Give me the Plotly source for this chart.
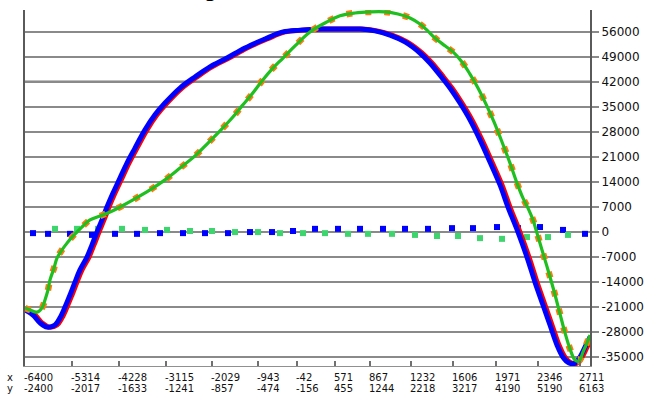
import plotly.graph_objects as go

# Sample index along the recorded sweep and the measured channel values
blue_t = [0, 8, 15, 22, 30, 35, 40, 45, 50, 55, 62, 67, 72, 77, 82, 88, 95, 102, 110, 120,
          130, 140, 155, 170, 185, 202, 220, 240, 258, 275, 295, 315, 335, 350, 365, 380,
          395, 405, 415, 425, 435, 445, 455, 465, 475, 483, 493, 502, 510, 518, 525, 532,
          538, 544, 550, 555, 560, 565]
blue_v = [-21900, -23300, -25500, -26700, -26100, -24100, -21100, -17700, -14100, -10700,
          -7100, -3700, -100, 3300, 6900, 10800, 15000, 19200, 23400, 28500,
          32700, 36000, 40200, 43300, 46100, 48600, 51400, 53900, 55900, 56400,
          56700, 56700, 56700, 56200, 55000, 53100, 50000, 47200, 43800, 40200,
          36000, 31300, 25700, 19500, 13100, 6900, -100, -7100, -14100, -20500,
          -26100, -31700, -35100, -36700, -36800, -35100, -32300, -29500]

green_t = [0, 5, 12, 17, 20, 23, 25, 29, 32, 37, 42, 47, 52, 58, 65, 75, 85, 95, 108, 125,
           140, 155, 170, 183, 195, 207, 217, 227, 237, 247, 258, 270, 285, 300, 315, 330,
           345, 360, 373, 385, 395, 402, 410, 420, 428, 437, 445, 453, 461, 469, 477, 485,
           492, 498, 503, 508, 512, 517, 523, 529, 535, 540, 545, 550, 554, 558, 562, 565]
green_v = [-21300, -21900, -22500, -21300, -19100, -16300, -13500, -10200, -7400, -5100,
           -3200, -1500, -100, 1600, 3300, 4400, 5500, 6900, 8900, 11700,
           14500, 17800, 21200, 24800, 28200, 31800, 35200, 38500, 42200, 45500,
           48600, 52000, 55900, 58400, 60400, 61200, 61500, 61500, 60900, 59800,
           58100, 56400, 54200, 52000, 50300, 47500, 44100, 40200, 35700, 30700,
           25100, 19200, 13600, 9400, 6600, 3300, -400, -5100, -10700, -16600,
           -23000, -28300, -32800, -35900, -36200, -33700, -31100, -28900]

# Residual channels sampled around zero
blue_sq_t = [8, 23, 45, 67, 90, 112, 135, 158, 180, 203, 225, 247, 268, 290, 313, 335,
             358, 380, 403, 427, 448, 472, 493, 515, 538, 560]
blue_sq_v = [-400, -600, -600, -900, -600, -600, -400, -400, -400, -400, -100, -100, 200,
             800, 800, 800, 800, 800, 800, 1000, 1000, 1300, 1000, 1300, 500, -600]
green_sq_t = [30, 52, 73, 97, 120, 142, 165, 187, 210, 233, 255, 278, 300, 323, 343, 367,
              390, 412, 433, 455, 477, 502, 523, 543]
green_sq_v = [800, 800, 800, 800, 500, 500, 200, 200, -100, -100, -400, -400, -400, -600,
              -600, -600, -900, -1200, -1200, -1800, -2000, -1500, -1500, -900]

# Labelled samples: x and y coordinates at each marked index
tick_t = [0, 47, 94, 141, 187, 233, 272, 310, 345, 386, 428, 471, 513, 555]
tick_x = ["-6400", "-5314", "-4228", "-3115", "-2029", "-943", "-42", "571", "867",
          "1232", "1606", "1971", "2346", "2711"]
tick_y = ["-2400", "-2017", "-1633", "-1241", "-857", "-474", "-156", "455", "1244",
          "2218", "3217", "4190", "5190", "6163"]

y_ticks = [-35000, -28000, -21000, -14000, -7000, 0, 7000, 14000, 21000, 28000,
           35000, 42000, 49000, 56000]
y_major = [-21000, 0, 21000, 42000]

LAG = 2  # red channel trails blue by a couple of samples
red_t = [t + LAG for t in blue_t]
red_v = blue_v

fig = go.Figure()

fig.add_trace(go.Scatter(x=blue_sq_t, y=blue_sq_v, mode="markers",
                         marker=dict(symbol="square", size=6, color="#0000ff"),
                         hoverinfo="skip"))
fig.add_trace(go.Scatter(x=green_sq_t, y=green_sq_v, mode="markers",
                         marker=dict(symbol="square", size=6, color="#3fd56e"),
                         hoverinfo="skip"))
fig.add_trace(go.Scatter(x=red_t, y=red_v, mode="lines",
                         line=dict(color="#ff0000", width=5, shape="spline")))
fig.add_trace(go.Scatter(x=blue_t, y=blue_v, mode="lines",
                         line=dict(color="#0000ff", width=5, shape="spline")))
fig.add_trace(go.Scatter(x=green_t, y=green_v, mode="lines",
                         line=dict(color="#ff7a10", width=6.5, dash="6px,13px", shape="spline")))
fig.add_trace(go.Scatter(x=green_t, y=green_v, mode="lines",
                         line=dict(color="#1fbf1f", width=3.2, shape="spline")))

shapes = [dict(type="line", xref="paper", yref="y", x0=0, x1=1, y0=v, y1=v,
               line=dict(color="#000000", width=1.5), layer="below") for v in y_major]

LBL = dict(family="DejaVu Sans", size=10, color="#111111")
ROW1, ROW2 = -0.0309, -0.0646
annotations = []
for t, xs, ys in zip(tick_t, tick_x, tick_y):
    annotations.append(dict(x=t, xref="x", y=ROW1, yref="paper", text=xs,
                            xanchor="left", yanchor="middle", xshift=-3,
                            showarrow=False, font=LBL))
    annotations.append(dict(x=t, xref="x", y=ROW2, yref="paper", text=ys,
                            xanchor="left", yanchor="middle", xshift=-3,
                            showarrow=False, font=LBL))
annotations.append(dict(x=-0.0319, xref="paper", y=ROW1, yref="paper", text="x",
                        xanchor="left", yanchor="middle", xshift=-2, showarrow=False, font=LBL))
annotations.append(dict(x=-0.0319, xref="paper", y=ROW2, yref="paper", text="y",
                        xanchor="left", yanchor="middle", xshift=-2, showarrow=False, font=LBL))
annotations.append(dict(x=0.327, xref="paper", y=1, yref="paper", text="g",
                        xanchor="center", yanchor="bottom", yshift=6, showarrow=False,
                        font=dict(family="Liberation Sans", size=26, color="#000000")))

fig.update_layout(
    width=664, height=398,
    margin=dict(l=25, r=74, t=10, b=32),
    paper_bgcolor="#ffffff", plot_bgcolor="#ffffff",
    showlegend=False,
    shapes=shapes,
    annotations=annotations,
    xaxis=dict(range=[0, 565], showgrid=False, zeroline=False,
               tickvals=tick_t, ticktext=[""] * len(tick_t),
               ticks="inside", ticklen=5, tickcolor="#707070", tickwidth=1.5,
               showline=True, linecolor="#909090", linewidth=1),
    yaxis=dict(range=[-37577, 62032], side="right", zeroline=False,
               tickvals=y_ticks, ticktext=[str(v) for v in y_ticks],
               showgrid=True, gridcolor="#8a8a8a", gridwidth=1.5,
               ticks="outside", ticklen=7, tickcolor="#8a8a8a", tickwidth=1.5,
               showline=True, mirror=True, linecolor="#5a5a5a", linewidth=2,
               tickfont=dict(family="DejaVu Sans", size=12, color="#111111")),
)

fig.write_html("out.html")
